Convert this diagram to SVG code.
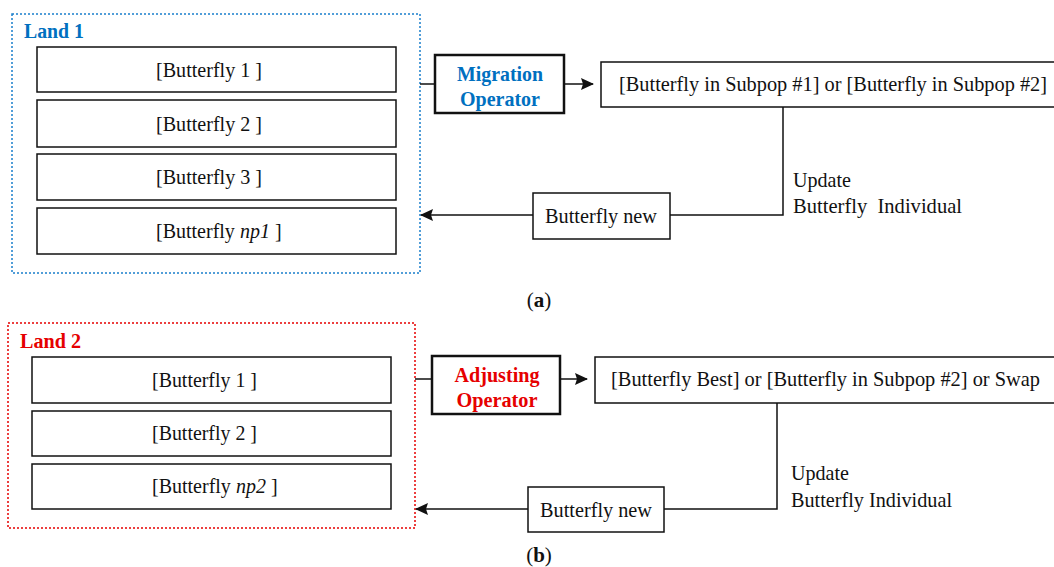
<svg xmlns="http://www.w3.org/2000/svg" width="1054" height="567" viewBox="0 0 1054 567">
<style>
.t{font-family:"Liberation Serif","Times New Roman",serif;font-size:21px;fill:#111;}
.s20{font-size:20px;}
.c{text-anchor:middle;}
.b{font-weight:bold;}
.box{fill:#fff;stroke:#111;stroke-width:1.5;}
.op{fill:#fff;stroke:#111;stroke-width:2.5;}
.ln{fill:none;stroke:#111;stroke-width:1.5;}
.blue{fill:#0070C0;}
.red{fill:#E60000;}
</style>
<defs>
<marker id="ah" markerWidth="13" markerHeight="12" refX="12" refY="6" orient="auto" markerUnits="userSpaceOnUse">
<path d="M0,0 L13,6 L0,12 L2,6 z" fill="#111"/>
</marker>
</defs>
<rect width="1054" height="567" fill="#fff"/>

<g id="land1">
<rect x="12" y="14" width="408" height="259" fill="none" stroke="#1A7FCC" stroke-width="1.5" stroke-dasharray="2,2"/>
<text class="t b blue" x="24" y="38" textLength="60" lengthAdjust="spacingAndGlyphs">Land 1</text>
</g>
<g id="b1-1"><rect class="box" x="37" y="47" width="359" height="45"/><text class="t" x="156" y="77" textLength="106" lengthAdjust="spacingAndGlyphs">[Butterfly 1 ]</text></g>
<g id="b1-2"><rect class="box" x="37" y="100" width="359" height="47"/><text class="t" x="156" y="131" textLength="106" lengthAdjust="spacingAndGlyphs">[Butterfly 2 ]</text></g>
<g id="b1-3"><rect class="box" x="37" y="154" width="359" height="46"/><text class="t" x="156" y="184" textLength="106" lengthAdjust="spacingAndGlyphs">[Butterfly 3 ]</text></g>
<g id="b1-4"><rect class="box" x="37" y="208" width="359" height="46"/><text class="t s20" x="156" y="238">[Butterfly <tspan font-style="italic">np1</tspan> ]</text></g>

<g id="migration"><rect class="op" x="435" y="55" width="129" height="58"/>
<text class="t c b blue" x="500" y="81" textLength="86" lengthAdjust="spacingAndGlyphs">Migration</text>
<text class="t c b blue" x="500" y="106" textLength="80" lengthAdjust="spacingAndGlyphs">Operator</text></g>
<g id="choice1"><path class="box" d="M1054,62 H601 V107 H1054"/>
<text class="t s20" x="619" y="91" textLength="428" lengthAdjust="spacingAndGlyphs">[Butterfly in Subpop #1] or [Butterfly in Subpop #2]</text></g>
<g id="new1"><rect class="box" x="533" y="193" width="137" height="46"/>
<text class="t" x="545" y="223" textLength="112" lengthAdjust="spacingAndGlyphs">Butterfly new</text></g>

<g id="land2">
<rect x="8" y="323" width="407" height="205" fill="none" stroke="#E60000" stroke-width="1.5" stroke-dasharray="2,2"/>
<text class="t b red" x="20" y="348" textLength="61" lengthAdjust="spacingAndGlyphs">Land 2</text>
</g>
<g id="b2-1"><rect class="box" x="32" y="357" width="359" height="46"/><text class="t" x="152" y="387" textLength="105" lengthAdjust="spacingAndGlyphs">[Butterfly 1 ]</text></g>
<g id="b2-2"><rect class="box" x="32" y="411" width="359" height="45"/><text class="t" x="152" y="440" textLength="105" lengthAdjust="spacingAndGlyphs">[Butterfly 2 ]</text></g>
<g id="b2-3"><rect class="box" x="32" y="464" width="359" height="45"/><text class="t s20" x="152" y="493">[Butterfly <tspan font-style="italic">np2</tspan> ]</text></g>

<g id="adjusting"><rect class="op" x="432" y="356" width="128" height="58"/>
<text class="t c b red" x="497" y="382" textLength="85" lengthAdjust="spacingAndGlyphs">Adjusting</text>
<text class="t c b red" x="497" y="407" textLength="81" lengthAdjust="spacingAndGlyphs">Operator</text></g>
<g id="choice2"><path class="box" d="M1054,357 H595 V403 H1054"/>
<text class="t" x="611" y="386" textLength="429" lengthAdjust="spacingAndGlyphs">[Butterfly Best] or [Butterfly in Subpop #2] or Swap</text></g>
<g id="new2"><rect class="box" x="528" y="487" width="136" height="45"/>
<text class="t" x="540" y="517" textLength="112" lengthAdjust="spacingAndGlyphs">Butterfly new</text></g>

<g id="connectors">
<line class="ln" x1="420" y1="84" x2="435" y2="84"/>
<line class="ln" x1="564" y1="84" x2="593" y2="84" marker-end="url(#ah)"/>
<polyline class="ln" points="783,107 783,215 670,215"/>
<line class="ln" x1="533" y1="215" x2="421" y2="215" marker-end="url(#ah)"/>
<line class="ln" x1="415" y1="379" x2="432" y2="379"/>
<line class="ln" x1="560" y1="379" x2="587" y2="379" marker-end="url(#ah)"/>
<polyline class="ln" points="777,403 777,509 664,509"/>
<line class="ln" x1="528" y1="509" x2="416" y2="509" marker-end="url(#ah)"/>
</g>

<g id="labels">
<text class="t" x="793" y="187" textLength="58" lengthAdjust="spacingAndGlyphs">Update</text>
<text class="t" x="793" y="213" style="white-space:pre" textLength="169" lengthAdjust="spacingAndGlyphs">Butterfly  Individual</text>
<text class="t" x="791" y="480" textLength="58" lengthAdjust="spacingAndGlyphs">Update</text>
<text class="t" x="791" y="507" textLength="161" lengthAdjust="spacingAndGlyphs">Butterfly Individual</text>
<text class="t c" x="539" y="307">(<tspan font-weight="bold">a</tspan>)</text>
<text class="t c" x="539" y="562">(<tspan font-weight="bold">b</tspan>)</text>
</g>
</svg>
